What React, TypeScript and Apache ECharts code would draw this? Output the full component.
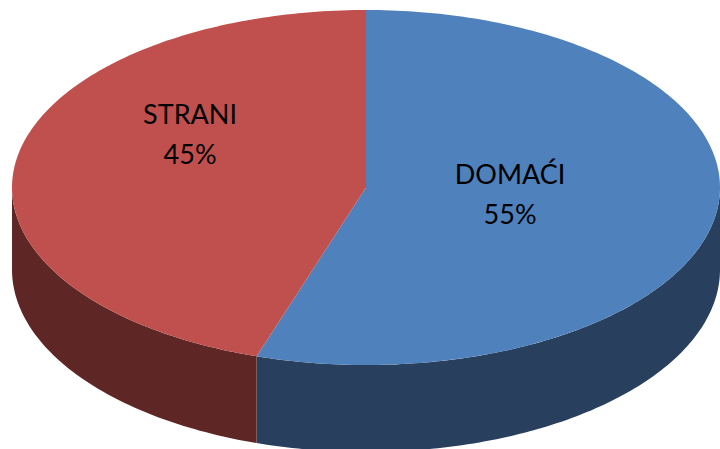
import React, { useEffect, useRef } from "react";
import * as echarts from "echarts";

const categories = ["DOMAĆI", "STRANI"];
const values = [55, 45];
const topColors = ["#4F81BD", "#C0504D"];
const sideColors = ["#283F5E", "#5E2726"];
// label anchors as fractions of the ellipse radii, relative to its centre (styling)
const labelAnchors = [
  [0.407, 0.034],
  [-0.497, -0.304],
];

export default function App() {
  const ref = useRef<HTMLDivElement>(null);
  useEffect(() => {
    if (!ref.current) return;
    const chart = echarts.init(ref.current, undefined, { renderer: "svg" });
    const total = values.reduce((a, b) => a + b, 0);
    const cx = 366, cy = 187.5, rx = 354, ry = 177.5;
    const depthAt = (deg: number) => 82 - 5 * Math.cos((deg * Math.PI) / 180);
    const pt = (deg: number, down = false) => {
      const r = (deg * Math.PI) / 180;
      return [cx + rx * Math.sin(r), cy - ry * Math.cos(r) + (down ? depthAt(deg) : 0)];
    };
    const arc = (a0: number, a1: number, down = false) => {
      const pts: number[][] = [];
      const n = Math.max(2, Math.ceil(Math.abs(a1 - a0) / 1));
      for (let i = 0; i <= n; i++) pts.push(pt(a0 + ((a1 - a0) * i) / n, down));
      return pts;
    };
    const starts: number[] = [];
    let acc = 0;
    values.forEach((v) => {
      starts.push((acc / total) * 360);
      acc += v;
    });

    chart.setOption({
      animation: false,
      series: [
        {
          type: "custom",
          coordinateSystem: "none",
          data: values.map((v, i) => ({ value: v, name: categories[i] })),
          renderItem: (params: any, api: any) => {
            const i = params.dataIndex;
            const v = api.value(0);
            const a0 = starts[i];
            const a1 = a0 + (v / total) * 360;
            const children: any[] = [];
            const s = Math.max(a0, 90);
            const e = Math.min(a1, 270);
            if (e > s) {
              const top = arc(s, e);
              const bot = arc(e, s, true);
              children.push({
                type: "polygon",
                shape: { points: top.concat(bot) },
                style: { fill: sideColors[i] },
              });
            }
            children.push({
              type: "polygon",
              shape: { points: [[cx, cy]].concat(arc(a0, a1)) },
              style: { fill: topColors[i] },
            });
            const pct = Math.round((v / total) * 100) + "%";
            children.push({
              type: "text",
              style: {
                text: categories[i] + "\n" + pct,
                x: cx + labelAnchors[i][0] * rx,
                y: cy + labelAnchors[i][1] * ry,
                fill: "#000000",
                fontSize: 27,
                fontFamily: "Lato",
                lineHeight: 40,
                align: "center",
                verticalAlign: "middle",
              },
            });
            return { type: "group", children };
          },
        },
      ],
    });
    return () => chart.dispose();
  }, []);
  return (
    <div
      ref={ref}
      style={{ position: "absolute", left: 0, top: 0, width: 720, height: 449, background: "#fff" }}
    />
  );
}
